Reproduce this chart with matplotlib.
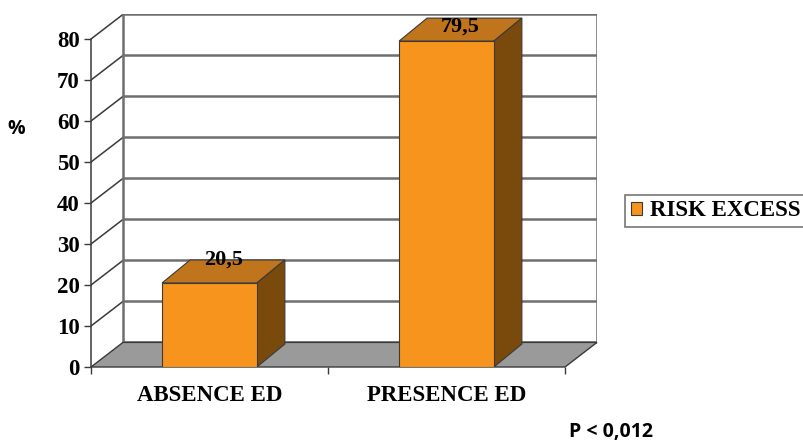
import matplotlib
matplotlib.use("Agg")
import matplotlib.pyplot as plt
from matplotlib.patches import Polygon

categories = ["ABSENCE ED", "PRESENCE ED"]
values = [20.5, 79.5]
value_labels = ["20,5", "79,5"]
yticks = [0, 10, 20, 30, 40, 50, 60, 70, 80]
series_name = "RISK EXCESS"
p_text = "P < 0,012"

FRONT = "#F7941E"
TOP = "#C0741C"
SIDE = "#7A4A0C"
FLOOR = "#9A9A9A"
EDGE = "#3A3A3A"
GRID = "#6F6F6F"
SERIF = ["Liberation Serif", "DejaVu Serif"]
SANS = ["Open Sans", "DejaVu Sans"]

# depth offsets of the wall and of the bars, in data units
wall_dx, wall_dy = 0.135, 6.0
bar_dx, bar_dy = 0.118, 5.6
bar_w = 0.40
x0, x1 = -0.5, 1.5
ymax = 80

fig = plt.figure(figsize=(8.04, 4.41), dpi=100)
ax = fig.add_axes([91 / 804, (441 - 367) / 441, (597 - 91) / 804, (367 - 14) / 441])
ax.set_xlim(x0, x1 + wall_dx)
ax.set_ylim(0, ymax + wall_dy + 0.1)

# back wall gridlines and the left-side connectors
for v in yticks:
    ax.plot([x0 + wall_dx, x1 + wall_dx], [v + wall_dy, v + wall_dy],
            color=GRID, lw=1.8, zorder=1, solid_capstyle="butt")
    if v > 0:
        ax.plot([x0, x0 + wall_dx], [v, v + wall_dy], color=EDGE, lw=1.1, zorder=1)
for xe in (x0 + wall_dx, x1 + wall_dx):
    ax.plot([xe, xe], [wall_dy, ymax + wall_dy], color=GRID, lw=1.8, zorder=1)

# floor
floor = Polygon([(x0, 0), (x1, 0), (x1 + wall_dx, wall_dy), (x0 + wall_dx, wall_dy)],
                closed=True, facecolor=FLOOR, edgecolor=EDGE, lw=1.0, zorder=2,
                clip_on=False)
ax.add_patch(floor)

# bars
xs = list(range(len(categories)))
bars = ax.bar(xs, values, width=bar_w, color=FRONT, edgecolor=EDGE, lw=0.8, zorder=4)
for x, v, lab in zip(xs, values, value_labels):
    l, r = x - bar_w / 2, x + bar_w / 2
    top = Polygon([(l, v), (r, v), (r + bar_dx, v + bar_dy), (l + bar_dx, v + bar_dy)],
                  closed=True, facecolor=TOP, edgecolor=EDGE, lw=0.8, zorder=3)
    side = Polygon([(r, 0), (r + bar_dx, bar_dy), (r + bar_dx, v + bar_dy), (r, v)],
                   closed=True, facecolor=SIDE, edgecolor=EDGE, lw=0.8, zorder=3)
    ax.add_patch(top)
    ax.add_patch(side)
    ax.text(x + bar_dx / 2, min(v + bar_dy, 83.0), lab, ha="center", va="center",
            fontsize=16, fontweight="bold", family=SERIF, zorder=6)

# axes: front left spine and ticks
for s in ("top", "right", "bottom"):
    ax.spines[s].set_visible(False)
ax.spines["left"].set_bounds(0, ymax)
ax.spines["left"].set_color(EDGE)
ax.spines["left"].set_linewidth(1.1)
ax.set_yticks(yticks)
ax.set_yticklabels([str(t) for t in yticks], fontsize=16.5, fontweight="bold", family=SERIF)
ax.tick_params(axis="y", length=5, width=1.0, color=EDGE, pad=3)

ax.set_xticks(xs)
ax.set_xticklabels(categories, fontsize=16.5, fontweight="bold", family=SERIF)
ax.tick_params(axis="x", which="major", length=0, pad=13)
ax.set_xticks([x0, 0.5, x1], minor=True)
ax.tick_params(axis="x", which="minor", length=5, width=1.0, color=EDGE)

fig.text(16 / 804, 1 - 129 / 441, "%", fontsize=14, fontweight="bold",
         family=SANS, ha="center", va="center")

# legend
handle = plt.Rectangle((0, 0), 1, 1, facecolor=FRONT, edgecolor=EDGE, lw=0.8)
leg = fig.legend([handle], [series_name], loc="center left",
                 bbox_to_anchor=(625 / 804, 1 - 211 / 441),
                 prop={"family": SERIF, "weight": "bold", "size": 16.5},
                 frameon=True, fancybox=False, handlelength=0.5, handleheight=0.5,
                 handletextpad=0.35, borderpad=0.25, borderaxespad=0)
leg.get_frame().set_edgecolor("#555555")
leg.get_frame().set_linewidth(1.2)

fig.text(611 / 804, 1 - 432 / 441, p_text, fontsize=14, fontweight="bold",
         family=SANS, ha="center", va="center")

fig.savefig("out.png", dpi=100)
